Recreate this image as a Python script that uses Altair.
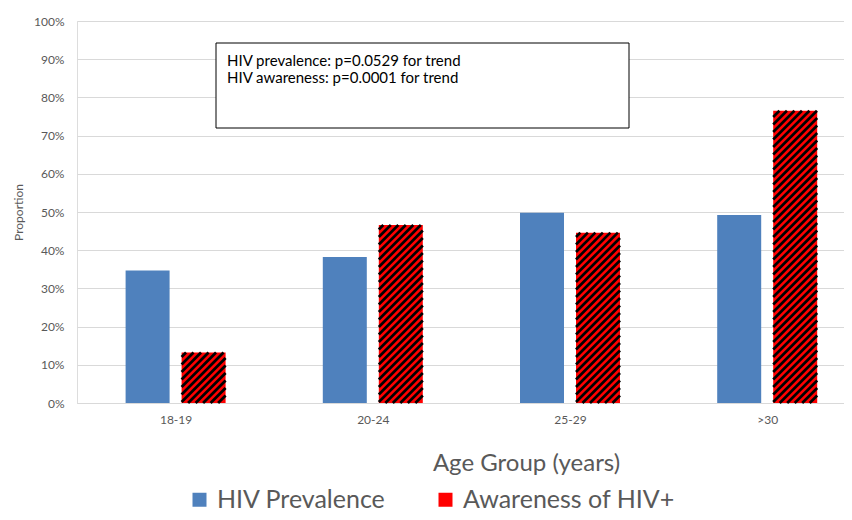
import json
import altair as alt
import pandas as pd

categories = ["18-19", "20-24", "25-29", ">30"]
prevalence = [0.347, 0.382, 0.498, 0.492]
awareness = [0.132, 0.466, 0.446, 0.765]
series_names = ["HIV Prevalence", "Awareness of HIV+"]
note_lines = ["HIV prevalence: p=0.0529 for trend", "HIV awareness: p=0.0001 for trend"]
y_ticks = [0, 0.1, 0.2, 0.3, 0.4, 0.5, 0.6, 0.7, 0.8, 0.9, 1.0]

BLUE = "#4F81BD"
RED = "#FF0000"
GREY = "#595959"
GRID = "#D9D9D9"
FONT = "Lato"

# layout constants (pixels)
PX_CAT = 197.2      # pixels per category
PLOT_W = 767
PLOT_H = 382
BAR_PX = 44
GAP_PX = 12
XMAX = PLOT_W / PX_CAT
BW = BAR_PX / PX_CAT
HALF_GAP = (GAP_PX / 2) / PX_CAT
# hatch constants (data units on y)
DY = BAR_PX / PLOT_H
STEP = 7.5 / PLOT_H

rows = []
for i, c in enumerate(categories):
    rows.append({"category": c, "idx": i, "series": series_names[0], "value": prevalence[i], "side": -1})
    rows.append({"category": c, "idx": i, "series": series_names[1], "value": awareness[i], "side": 1})
df = pd.DataFrame(rows)

label_expr = json.dumps(categories) + "[floor(datum.value)]"

base = alt.Chart(df).transform_calculate(
    xl=f"datum.idx + 0.5 + (datum.side < 0 ? -{HALF_GAP + BW} : {HALF_GAP})"
).transform_calculate(
    xr=f"datum.xl + {BW}", zero="0"
)

xscale = alt.Scale(domain=[0, XMAX], nice=False, zero=False)
yscale = alt.Scale(domain=[0, 1], nice=False)

xaxis = alt.Axis(values=[0.5, 1.5, 2.5, 3.5], labelExpr=label_expr, grid=False,
                 domain=True, domainColor=GRID, domainWidth=1, ticks=False,
                 labelPadding=11, labelFontSize=12, labelColor=GREY, labelFont=FONT,
                 titleFontSize=24, titleColor=GREY, titleFont=FONT, titleFontWeight="normal",
                 titleX=449, titleY=60, titleBaseline="middle", titleAlign="center")
yaxis = alt.Axis(format=".0%", values=y_ticks,
                 grid=True, gridColor=GRID, gridWidth=1, domain=False, ticks=False,
                 labelOverlap=False, labelSeparation=0,
                 labelPadding=13, labelFontSize=12, labelColor=GREY, labelFont=FONT,
                 titleFontSize=12, titleColor=GREY, titleFont=FONT,
                 titleFontWeight="normal", titlePadding=8)

bars = base.mark_rect().encode(
    x=alt.X("xl:Q", scale=xscale, title="Age Group (years)", axis=xaxis),
    x2="xr:Q",
    y=alt.Y("value:Q", scale=yscale, title="Proportion", axis=yaxis),
    y2="zero:Q",
    color=alt.Color("series:N", scale=alt.Scale(domain=series_names, range=[BLUE, RED]),
                    legend=alt.Legend(title=None, orient="none", direction="horizontal",
                                      legendX=110, legendY=466, symbolType="square",
                                      symbolSize=196, symbolStrokeWidth=0, labelFontSize=25,
                                      labelColor=GREY, labelFont=FONT, labelOffset=5,
                                      labelLimit=400, columnPadding=47, padding=0)),
)

hatch = base.transform_filter(
    alt.datum.series == series_names[1]
).transform_calculate(
    ks=f"sequence(0, ceil((datum.value + {DY}) / {STEP}) + 1)"
).transform_flatten(["ks"]).transform_calculate(
    y0=f"datum.ks * {STEP} - {DY}"
).transform_calculate(
    tmin=f"max(0, -datum.y0 / {DY})",
    tmax=f"min(1, (datum.value - datum.y0) / {DY})",
).transform_filter(
    "datum.tmin < datum.tmax"
).transform_calculate(
    xa=f"datum.xl + datum.tmin * {BW}",
    xb=f"datum.xl + datum.tmax * {BW}",
    ya=f"datum.y0 + datum.tmin * {DY}",
    yb=f"datum.y0 + datum.tmax * {DY}",
).mark_rule(color="black", strokeWidth=2.7, strokeCap="butt").encode(
    x=alt.X("xa:Q", scale=xscale, title="Age Group (years)", axis=xaxis),
    x2="xb:Q",
    y=alt.Y("ya:Q", scale=yscale, title="Proportion", axis=yaxis),
    y2="yb:Q",
)

note_df = pd.DataFrame({"note": ["\n".join(note_lines)]})
box = alt.Chart(note_df).mark_rect(fill="white", stroke="black", strokeWidth=1).encode(
    x=alt.value(139), x2=alt.value(552), y=alt.value(22), y2=alt.value(107)
)
note = alt.Chart(note_df).mark_text(
    align="left", baseline="alphabetic", fontSize=15, font=FONT, color="black",
    lineBreak="\n", lineHeight=17
).encode(text="note:N", x=alt.value(150), y=alt.value(45))

chart = alt.layer(bars, hatch, box, note).properties(
    width=PLOT_W, height=PLOT_H,
    autosize=alt.AutoSizeParams(type="none"),
    padding={"left": 69, "top": 13, "right": 0, "bottom": 109},
).configure_view(stroke=None).configure(font=FONT).configure_axisY(
    labelOverlap=False, tickCount=11
)

chart.save("out.html", embed_options={"renderer": "svg", "actions": False})
